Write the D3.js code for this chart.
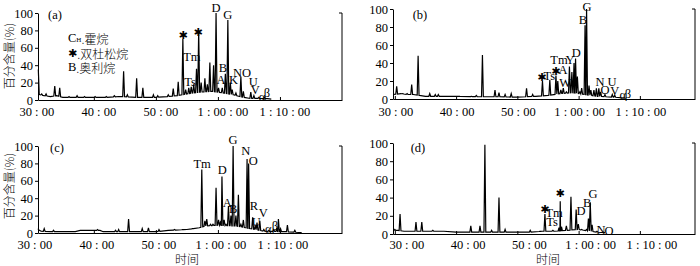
<!DOCTYPE html>
<html><head><meta charset="utf-8">
<script src="https://cdn.jsdelivr.net/npm/d3@7"></script>
<style>body{margin:0;background:#fff} svg{display:block}</style>
</head><body><svg id="c" width="700" height="266"></svg>
<script>
// ---------- data ----------
const timeTicks = [30, 40, 50, 60, 70];
const timeTickLabels = ["30 : 00", "40 : 00", "50 : 00", "1 : 00 : 00", "1 : 10 : 00"];
const valueTicks = [0, 20, 40, 60, 80, 100];
const yTitle = "百分含量(%)";
const xTitle = "时间";
const legendLines = [["C", "H", ".霍烷"], ["✱", "", ".双杜松烷"], ["B", "", ".奥利烷"]];

// panel (a)
const aBase = [[31.0,8],[31.3,6],[32,5],[33,4],[34,5],[35,3],[38,3],[42,3],[44,4],[47,3],[50,3],[52,4],[53.5,5],[55,7],[57,9],[59,10],[61,8],[62.5,6],[63.5,4],[65,2],[68,1.5],[68.6,1]];
const aPeakT = [31.05,31.6,32.3,33.7,34.5,36.0,37.3,38.5,40.2,42.0,43.3,44.8,45.4,46.9,47.9,49.6,50.3,52.0,52.8,53.6,54.35,54.8,55.3,55.7,56.1,56.55,56.9,57.3,57.9,58.3,58.7,59.3,59.7,60.1,60.7,61.2,61.6,62.0,62.3,62.9,63.7,64.1,65.3,65.8,66.6,67.5];
const aPeakV = [35,7,7,16,14,4,5,4,4,4,5,33,6,25,14,6,5,6,13,21,70,12,14,15,18,36,79,20,25,18,43,40,100,14,14,30,92,20,12,8,27,10,9,5,3,3];
const aLabelText = ["✱","✱","Tm","Ts","D","G","B","A","K","NO","U","V","α","β"];
const aLabelT = [54.4,56.8,55.8,55.5,59.7,61.6,60.8,60.5,62.5,63.9,65.7,66.0,67.1,67.9];
const aLabelV = [74.7,78,49.4,20.7,105.7,97.7,36.8,23,23,31,20.7,11.5,3.4,8];

// panel (b)
const bBase = [[29.7,5],[31,6],[32,5],[33,5],[34,4],[35,3],[40,3],[44,2.5],[47,2.5],[50,2],[53,3],[55,4],[57,6],[59,7],[61,5],[63,3],[66,2],[67.5,1]];
const bPeakT = [30.3,31.3,32.0,32.75,33.8,35.7,36.6,37.1,38.8,40.5,42.5,43.3,44.3,46.35,47.0,48.0,49.0,51.5,52.5,54.1,55.3,56.3,56.6,57.1,57.5,58.0,58.5,58.9,59.25,59.5,59.8,60.2,60.5,61.05,61.3,61.7,62.0,62.5,62.9,63.3,63.6,64.3,65.5,65.9];
const bPeakV = [14,6,6,16,48,6,5,5,3,3,3,4,49,10,7,5,6,12,5,20,21,26,20,10,12,8,36,30,40,45,25,8,12,82,100,15,10,10,12,12,8,5,5,4];
const bLabelText = ["G","B","D","Tm","Y","✱","Ts","✱","A","W","N","U","O","V","α","β"];
const bLabelT = [61.37,60.7,59.6,56.8,58.6,54.0,55.2,56.3,57.45,57.8,63.5,65.45,64.3,65.9,67.2,68.05];
const bLabelV = [102.5,87.8,51,43.3,43.3,24.4,25.6,31,32,17.8,18.9,18.9,10,8.9,4.4,5.6];

// panel (c)
const cBase = [[31,4],[31.5,2],[33,1.5],[37,1.5],[37.8,3],[41,3],[41.5,1.5],[45,1.5],[50,1.5],[52,3],[55,4],[57,6],[58,8],[60,9],[63,8],[64.5,6],[66,4],[67.5,2],[71,1.5],[73.5,0.5]];
const cPeakT = [31.0,32.0,33.5,40.6,43.5,44.0,45.6,47.8,48.8,50.5,53.0,54.3,55.9,57.4,57.9,58.2,58.8,59.2,59.7,60.1,60.4,60.65,61.0,61.3,61.7,62.1,62.45,62.9,63.3,63.7,64.1,64.7,64.95,65.6,66.0,66.3,66.75,67.4,68.2,69.0,69.5,69.75,70.1,71.2,72.4];
const cPeakV = [5,5,3,4,3,4,16,5,6,4,4,4,5,73,14,16,10,10,52,15,12,65,15,10,31,20,100,20,44,10,15,85,80,18,8,12,14,4,3,4,6,16,5,9,3];
const cLabelText = ["Tm","D","G","N","O","A","B","R","V","U","α","β"];
const cLabelT = [57.45,60.7,62.45,64.5,65.7,61.5,62.45,65.8,67.3,66.2,68.1,69.2];
const cLabelV = [79.3,72.4,106.9,94.3,82.8,34.5,27.6,31,23,12.6,4.6,8];

// panel (d)
const dBase = [[29.7,4],[30.5,4],[31.5,3],[35,3],[38,3],[40,2],[45,2],[52,2],[54,3],[56,3],[58,4],[60,5],[62,3],[63,2],[64.3,1.5]];
const dPeakT = [30.0,30.85,33.45,34.4,36.2,42.4,43.9,44.7,45.8,47.0,48.0,52.1,53.7,54.5,55.8,56.8,57.0,57.2,58.0,58.75,59.6,59.95,60.5,61.3,61.6,61.9,62.2,63.0];
const dPeakV = [5,22,13,13,4,9,9,98,4,40,5,4,3,22,4,7,36,8,9,41,27,11,5,5,17,35,10,3];
const dLabelText = ["✱","Tm","Ts","✱","D","B","G","N","O"];
const dLabelT = [54.5,56.0,55.65,56.96,60.4,61.4,62.35,63.65,64.96];
const dLabelV = [26.4,23,13.2,44,25.3,34,44,4.4,3.3];

// ---------- layout ----------
const serif = "'Liberation Serif','Times New Roman',serif";
const cjk = "'Noto Sans CJK SC','Noto Sans CJK JP',sans-serif";
const panels = [
  {tag:"(a)", base:aBase, pt:aPeakT, pv:aPeakV, lt:aLabelText, lx:aLabelT, ly:aLabelV,
   x0:38, x1:342, yb:100, yt:13, dom:[31,80], lblDx:5, lblY:112, tagPos:[55,15], yTitlePos:[8,56], xTitlePos:null, legend:[68,38]},
  {tag:"(b)", base:bBase, pt:bPeakT, pv:bPeakV, lt:bLabelText, lx:bLabelT, ly:bLabelV,
   x0:393, x1:695, yb:99, yt:9, dom:[29.7,79], lblDx:1, lblY:112, tagPos:[420,15], yTitlePos:null, xTitlePos:null},
  {tag:"(c)", base:cBase, pt:cPeakT, pv:cPeakV, lt:cLabelText, lx:cLabelT, ly:cLabelV,
   x0:38, x1:342, yb:233, yt:146, dom:[31,80], lblDx:3, lblY:245, tagPos:[57,148], yTitlePos:[8,186], xTitlePos:[187,258]},
  {tag:"(d)", base:dBase, pt:dPeakT, pv:dPeakV, lt:dLabelText, lx:dLabelT, ly:dLabelV,
   x0:393, x1:695, yb:234, yt:143, dom:[29.7,79], lblDx:12, lblY:245, tagPos:[418,148], yTitlePos:null, xTitlePos:[548,258]}
];

const svg = d3.select("#c");
const W = 0.15; // peak half width in minutes

panels.forEach(p => {
  const x = d3.scaleLinear().domain(p.dom).range([p.x0, p.x1]);
  const y = d3.scaleLinear().domain([0, 100]).range([p.yb, p.yt]);
  const g = svg.append("g");

  // axes
  const yAxis = d3.axisLeft(y).tickValues(valueTicks).tickSize(3).tickSizeOuter(0).tickPadding(2);
  const ga = g.append("g").attr("transform", `translate(${p.x0},0)`).call(yAxis);
  ga.selectAll("text").attr("font-family", serif).attr("font-size", 12.5).attr("fill", "#000");
  const xAxis = d3.axisBottom(x).tickValues(timeTicks.filter(t => t > p.dom[0])).tickSize(-3).tickSizeOuter(0).tickFormat("");
  g.append("g").attr("transform", `translate(0,${p.yb})`).call(xAxis);
  g.selectAll(".domain, .tick line").attr("stroke", "#000").attr("stroke-width", 1);
  // right bracket
  g.append("line").attr("x1", p.x1).attr("x2", p.x1).attr("y1", p.yt).attr("y2", p.yb).attr("stroke", "#000");
  g.append("line").attr("x1", p.x1 - 3).attr("x2", p.x1).attr("y1", p.yt).attr("y2", p.yt).attr("stroke", "#000");

  // x tick labels
  g.selectAll("text.xl").data(timeTicks).enter().append("text")
    .attr("x", (d) => x(d) + p.lblDx).attr("y", p.lblY)
    .attr("text-anchor", "middle").attr("dominant-baseline", "central")
    .attr("font-family", serif).attr("font-size", 12.5)
    .text((d, i) => timeTickLabels[i]);

  // trace
  const baseAt = d3.scaleLinear().domain(p.base.map(d => d[0])).range(p.base.map(d => d[1])).clamp(true);
  const pts = [];
  p.base.forEach(b => {
    if (!p.pt.some(t => Math.abs(t - b[0]) < W)) pts.push([b[0], b[1]]);
  });
  p.pt.forEach((t, i) => {
    pts.push([t - W, baseAt(t - W)]);
    pts.push([t, Math.max(p.pv[i], baseAt(t))]);
    pts.push([t + W, baseAt(t + W)]);
  });
  pts.sort((a, b) => a[0] - b[0]);
  const lo = p.base[0][0], hi = p.base[p.base.length - 1][0];
  const line = d3.line().x(d => x(d[0])).y(d => y(d[1]));
  g.append("path").datum(pts.filter(d => d[0] >= lo && d[0] <= hi))
    .attr("d", line).attr("fill", "none").attr("stroke", "#000").attr("stroke-width", 1.2)
    .attr("stroke-linejoin", "miter");

  // peak labels
  p.lt.forEach((s, i) => {
    const star = s === "✱";
    g.append("text").attr("x", x(p.lx[i])).attr("y", y(p.ly[i]))
      .attr("text-anchor", "middle").attr("dominant-baseline", "central")
      .attr("font-family", star ? "'DejaVu Sans',sans-serif" : serif)
      .attr("font-size", star ? 11 : 12.5).text(s);
  });

  // panel tag
  g.append("text").attr("x", p.tagPos[0]).attr("y", p.tagPos[1])
    .attr("text-anchor", "middle").attr("dominant-baseline", "central")
    .attr("font-family", serif).attr("font-size", 12.5).text(p.tag);

  if (p.yTitlePos) {
    g.append("text").attr("transform", `translate(${p.yTitlePos[0]},${p.yTitlePos[1]}) rotate(-90)`)
      .attr("text-anchor", "middle").attr("dominant-baseline", "central")
      .attr("font-family", cjk).attr("font-size", 12).attr("font-weight", 300).text(yTitle);
  }
  if (p.xTitlePos) {
    g.append("text").attr("x", p.xTitlePos[0]).attr("y", p.xTitlePos[1])
      .attr("text-anchor", "middle").attr("dominant-baseline", "central")
      .attr("font-family", cjk).attr("font-size", 12).attr("font-weight", 300).text(xTitle);
  }
  if (p.legend) {
    legendLines.forEach((l, i) => {
      const t = g.append("text").attr("x", p.legend[0]).attr("y", p.legend[1] + i * 14.5)
        .attr("dominant-baseline", "central").attr("font-size", 12.5);
      t.append("tspan").text(l[0])
        .attr("font-family", l[0] === "✱" ? "'DejaVu Sans',sans-serif" : serif)
        .attr("font-size", l[0] === "✱" ? 11 : 12.5);
      if (l[1]) t.append("tspan").text(l[1]).attr("font-family", serif).attr("font-size", 7).attr("dy", 2);
      t.append("tspan").text(l[2]).attr("font-family", cjk).attr("font-weight", 300).attr("font-size", 12).attr("dy", l[1] ? -2 : 0);
    });
  }
});
</script></body></html>
